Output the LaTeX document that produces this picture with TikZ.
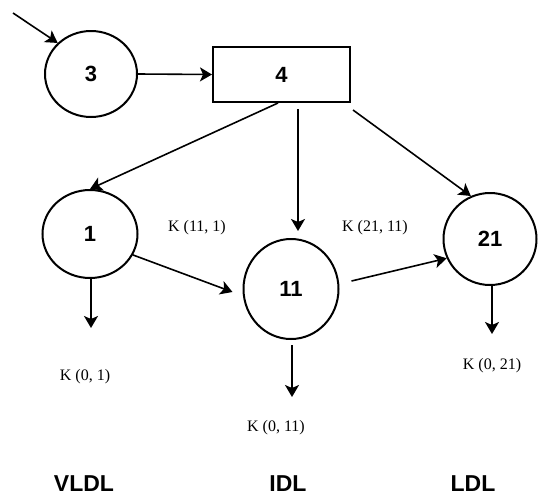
\documentclass[tikz,border=0pt]{standalone}
\usepackage{fontspec}
\setmainfont{Liberation Serif}
\setsansfont{Liberation Sans}
\usetikzlibrary{shapes.geometric,arrows.meta}
\begin{document}
\begin{tikzpicture}[x=1pt,y=-1pt,
  state/.style={ellipse,draw,line width=2pt,inner sep=0pt,font=\sffamily\bfseries\fontsize{22}{22}\selectfont},
  boxnode/.style={rectangle,draw,line width=2pt,inner sep=0pt,minimum width=137pt,minimum height=55pt,font=\sffamily\bfseries\fontsize{22}{22}\selectfont},
  arr/.style={line width=1.6pt,-{Stealth[length=12pt,width=14pt,inset=3pt]}},
  klabel/.style={font=\fontsize{16}{16}\selectfont,inner sep=0pt},
  grouplabel/.style={font=\sffamily\bfseries\fontsize{23}{23}\selectfont,inner sep=0pt}]
\useasboundingbox (0,0) rectangle (538,498);

\node[state,minimum width=92pt,minimum height=86pt] (n3) at (91,74) {3};
\node[boxnode] (n4) at (281.5,74.5) {4};
\node[state,minimum width=95pt,minimum height=88pt] (n1) at (90,234) {1};
\node[state,minimum width=95pt,minimum height=100pt] (n11) at (291,289) {11};
\node[state,minimum width=93pt,minimum height=92pt] (n21) at (490,239) {21};

\coordinate (in) at (13,13);
\coordinate (o1) at (91,328);
\coordinate (o11) at (292,397);
\coordinate (o21) at (492,334);

\draw[arr] (in) -- (n3.137);
\draw[arr] (n3.east) -- (n4.west);
\draw[arr] ([xshift=-3.5pt]n4.south) -- (n1.north);
\draw[arr] ([xshift=16.5pt,yshift=-6pt]n4.south) -- ([xshift=7pt,yshift=7pt]n11.north);
\draw[arr] ([xshift=2pt,yshift=-7pt]n4.south east) -- (n21.114);
\draw[arr] (n1.-26) -- ([xshift=-10pt,yshift=-3pt]n11.west);
\draw[arr] ([xshift=12pt,yshift=8pt]n11.east) -- (n21.-156);
\draw[arr] ([xshift=1pt]n1.south) -- (o1);
\draw[arr] ([xshift=1pt,yshift=-5pt]n11.south) -- (o11);
\draw[arr] ([xshift=2pt]n21.south) -- (o21);

\node[klabel] (k01) at (85,377) {K (0, 1)};
\node[klabel] (k111) at (197,228) {K (11, 1)};
\node[klabel] (k2111) at (375,228) {K (21, 11)};
\node[klabel] (k011) at (276,428) {K (0, 11)};
\node[klabel] (k021) at (492,366) {K (0, 21)};

\node[grouplabel] (vldl) at (84,484) {VLDL};
\node[grouplabel] (idl) at (288,484) {IDL};
\node[grouplabel] (ldl) at (473,484) {LDL};
\end{tikzpicture}
\end{document}
